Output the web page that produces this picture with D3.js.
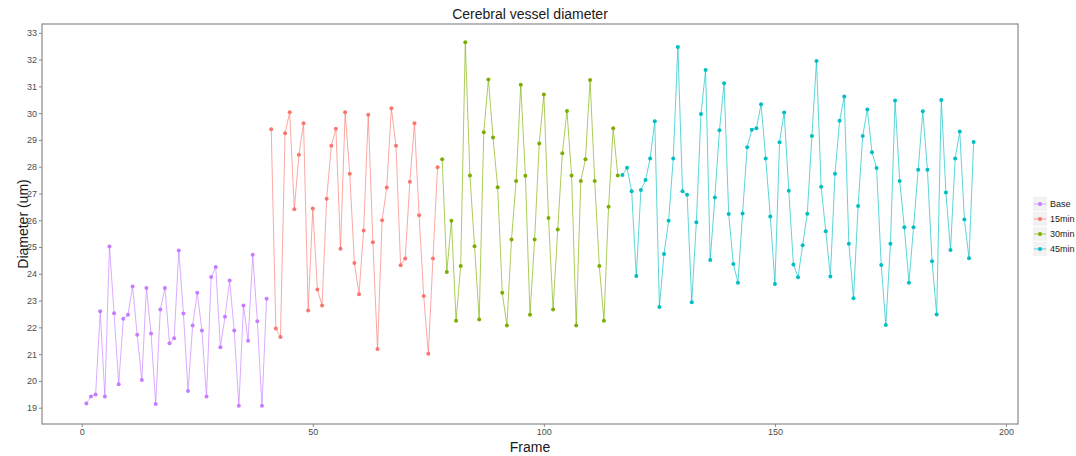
<!DOCTYPE html>
<html>
<head>
<meta charset="utf-8">
<script src="https://cdn.jsdelivr.net/npm/d3@7"></script>
<style>
  body { margin: 0; background: #fff; }
  svg { display: block; font-family: "Liberation Sans", Arial, sans-serif; }
</style>
</head>
<body>
<svg id="chart" width="1076" height="456"></svg>
<script>
// Series names as shown in the legend, in legend order
var groupNames = ["Base", "15min", "30min", "45min"];
var groupColors = ["#C77CFF", "#F8766D", "#7CAE00", "#00BFC4"];

// First frame of each series (frames run continuously 1..193)
var groupStartFrames = [1, 41, 78, 117];

// Diameter (um) per frame
var baseValues = [19.16, 19.42, 19.49, 22.60, 19.42, 25.02, 22.53, 19.88, 22.32, 22.47,
  23.53, 21.72, 20.03, 23.47, 21.77, 19.14, 22.67, 23.47, 21.41, 21.59,
  24.87, 22.52, 19.62, 22.07, 23.29, 21.88, 19.42, 23.88, 24.25, 21.26,
  22.40, 23.75, 21.88, 19.07, 22.82, 21.50, 24.71, 22.23, 19.07, 23.07];

var min15Values = [29.40, 21.96, 21.64, 29.25, 30.03, 26.41, 28.45, 29.62, 22.63, 26.44,
  23.41, 22.82, 26.80, 28.78, 29.42, 24.94, 30.03, 27.74, 24.40, 23.24,
  25.62, 29.94, 25.18, 21.19, 26.00, 27.22, 30.18, 28.78, 24.32, 24.57,
  27.44, 29.62, 26.19, 23.17, 21.01, 24.57, 27.98];

var min30Values = [28.28, 24.07, 25.98, 22.25, 24.29, 32.65, 27.67, 25.03, 22.29, 29.29,
  31.26, 29.09, 27.23, 23.29, 22.07, 25.28, 27.47, 31.06, 27.66, 22.47,
  25.28, 28.87, 30.70, 26.08, 22.67, 25.65, 28.50, 30.08, 27.67, 22.07,
  27.47, 28.28, 31.24, 27.47, 24.29, 22.25, 26.50, 29.44, 27.67];

var min45Values = [27.69, 27.96, 27.08, 23.92, 27.13, 27.50, 28.31, 29.70, 22.76, 24.74,
  25.98, 28.31, 32.47, 27.08, 26.95, 22.94, 25.93, 29.97, 31.61, 24.52,
  26.85, 29.36, 31.12, 26.23, 24.37, 23.67, 26.25, 28.73, 29.38, 29.44,
  30.33, 28.31, 26.14, 23.62, 28.91, 30.02, 27.10, 24.35, 23.87, 25.07,
  26.24, 29.15, 31.95, 27.25, 25.59, 23.90, 27.74, 29.72, 30.62, 25.12,
  23.09, 26.53, 29.15, 30.14, 28.54, 27.95, 24.33, 22.09, 25.12, 30.47,
  27.47, 25.74, 23.67, 25.74, 27.89, 30.07, 27.89, 24.47, 22.48, 30.49,
  27.04, 24.89, 28.31, 29.31, 26.03, 24.58, 28.92];

var xTickValues = [0, 50, 100, 150, 200];
var yTickValues = [19, 20, 21, 22, 23, 24, 25, 26, 27, 28, 29, 30, 31, 32, 33];

(function() {

  var svg = d3.select("#chart");

  var panel = { left: 42, right: 1018, top: 24, bottom: 424 };

  var seriesValues = [baseValues, min15Values, min30Values, min45Values];

  // Turn each value list into {frame, value} points
  var groups = groupNames.map(function(name, g) {
    return {
      name: name,
      color: groupColors[g],
      points: seriesValues[g].map(function(v, i) {
        return { frame: groupStartFrames[g] + i, value: v };
      })
    };
  });

  var allPoints = [].concat.apply([], groups.map(function(g) { return g.points; }));

  // ggplot style 5% expansion on both axes
  function expand(extent) {
    var pad = (extent[1] - extent[0]) * 0.05;
    return [extent[0] - pad, extent[1] + pad];
  }

  var x = d3.scaleLinear()
    .domain(expand(d3.extent(allPoints, function(d) { return d.frame; })))
    .range([panel.left, panel.right]);

  var y = d3.scaleLinear()
    .domain(expand(d3.extent(allPoints, function(d) { return d.value; })))
    .range([panel.bottom, panel.top]);

  // Panel border
  svg.append("rect")
    .attr("x", panel.left)
    .attr("y", panel.top)
    .attr("width", panel.right - panel.left)
    .attr("height", panel.bottom - panel.top)
    .attr("fill", "none")
    .attr("stroke", "#8a8a8a")
    .attr("stroke-width", 1.2);

  // Axes
  var xAxis = svg.append("g")
    .attr("transform", "translate(0," + panel.bottom + ")")
    .call(d3.axisBottom(x).tickValues(xTickValues).tickSize(3).tickPadding(2));

  var yAxis = svg.append("g")
    .attr("transform", "translate(" + panel.left + ",0)")
    .call(d3.axisLeft(y).tickValues(yTickValues).tickSize(3).tickPadding(2));

  [xAxis, yAxis].forEach(function(axis) {
    axis.select(".domain").remove();
    axis.selectAll(".tick line").attr("stroke", "#8a8a8a");
    axis.selectAll(".tick text")
      .attr("fill", "#4d4d4d")
      .style("font-size", "9px");
  });

  // Lines, one per series (not joined across series)
  var line = d3.line()
    .x(function(d) { return x(d.frame); })
    .y(function(d) { return y(d.value); });

  svg.append("g").selectAll("path")
    .data(groups)
    .enter().append("path")
    .attr("d", function(d) { return line(d.points); })
    .attr("fill", "none")
    .attr("stroke", function(d) { return d.color; })
    .attr("stroke-opacity", 0.8)
    .attr("stroke-width", 0.8);

  svg.append("g").selectAll("g")
    .data(groups)
    .enter().append("g")
    .attr("fill", function(d) { return d.color; })
    .selectAll("circle")
    .data(function(d) { return d.points; })
    .enter().append("circle")
    .attr("cx", function(d) { return x(d.frame); })
    .attr("cy", function(d) { return y(d.value); })
    .attr("r", 2);

  // Titles
  svg.append("text")
    .attr("x", (panel.left + panel.right) / 2)
    .attr("y", 19)
    .attr("text-anchor", "middle")
    .attr("fill", "#1a1a1a")
    .style("font-size", "14px")
    .text("Cerebral vessel diameter");

  svg.append("text")
    .attr("x", (panel.left + panel.right) / 2)
    .attr("y", 452)
    .attr("text-anchor", "middle")
    .attr("fill", "#1a1a1a")
    .style("font-size", "14px")
    .text("Frame");

  svg.append("text")
    .attr("transform", "translate(23," + ((panel.top + panel.bottom) / 2) + ") rotate(-90)")
    .attr("text-anchor", "middle")
    .attr("dy", "0.35em")
    .attr("fill", "#1a1a1a")
    .style("font-size", "14px")
    .text("Diameter (um)");

  // Legend
  var legend = svg.append("g")
    .attr("transform", "translate(1033,197)");

  var keys = legend.selectAll("g")
    .data(groups)
    .enter().append("g")
    .attr("transform", function(d, i) { return "translate(0," + (i * 15) + ")"; });

  keys.append("rect")
    .attr("width", 14)
    .attr("height", 14)
    .attr("fill", "#f2f2f2");

  keys.append("line")
    .attr("x1", 1).attr("x2", 13)
    .attr("y1", 7).attr("y2", 7)
    .attr("stroke", function(d) { return d.color; })
    .attr("stroke-opacity", 0.8)
    .attr("stroke-width", 0.8);

  keys.append("circle")
    .attr("cx", 7).attr("cy", 7).attr("r", 2)
    .attr("fill", function(d) { return d.color; });

  keys.append("text")
    .attr("x", 17)
    .attr("y", 7)
    .attr("dy", "0.35em")
    .attr("fill", "#1a1a1a")
    .style("font-size", "9px")
    .text(function(d) { return d.name; });

}());
</script>
</body>
</html>
